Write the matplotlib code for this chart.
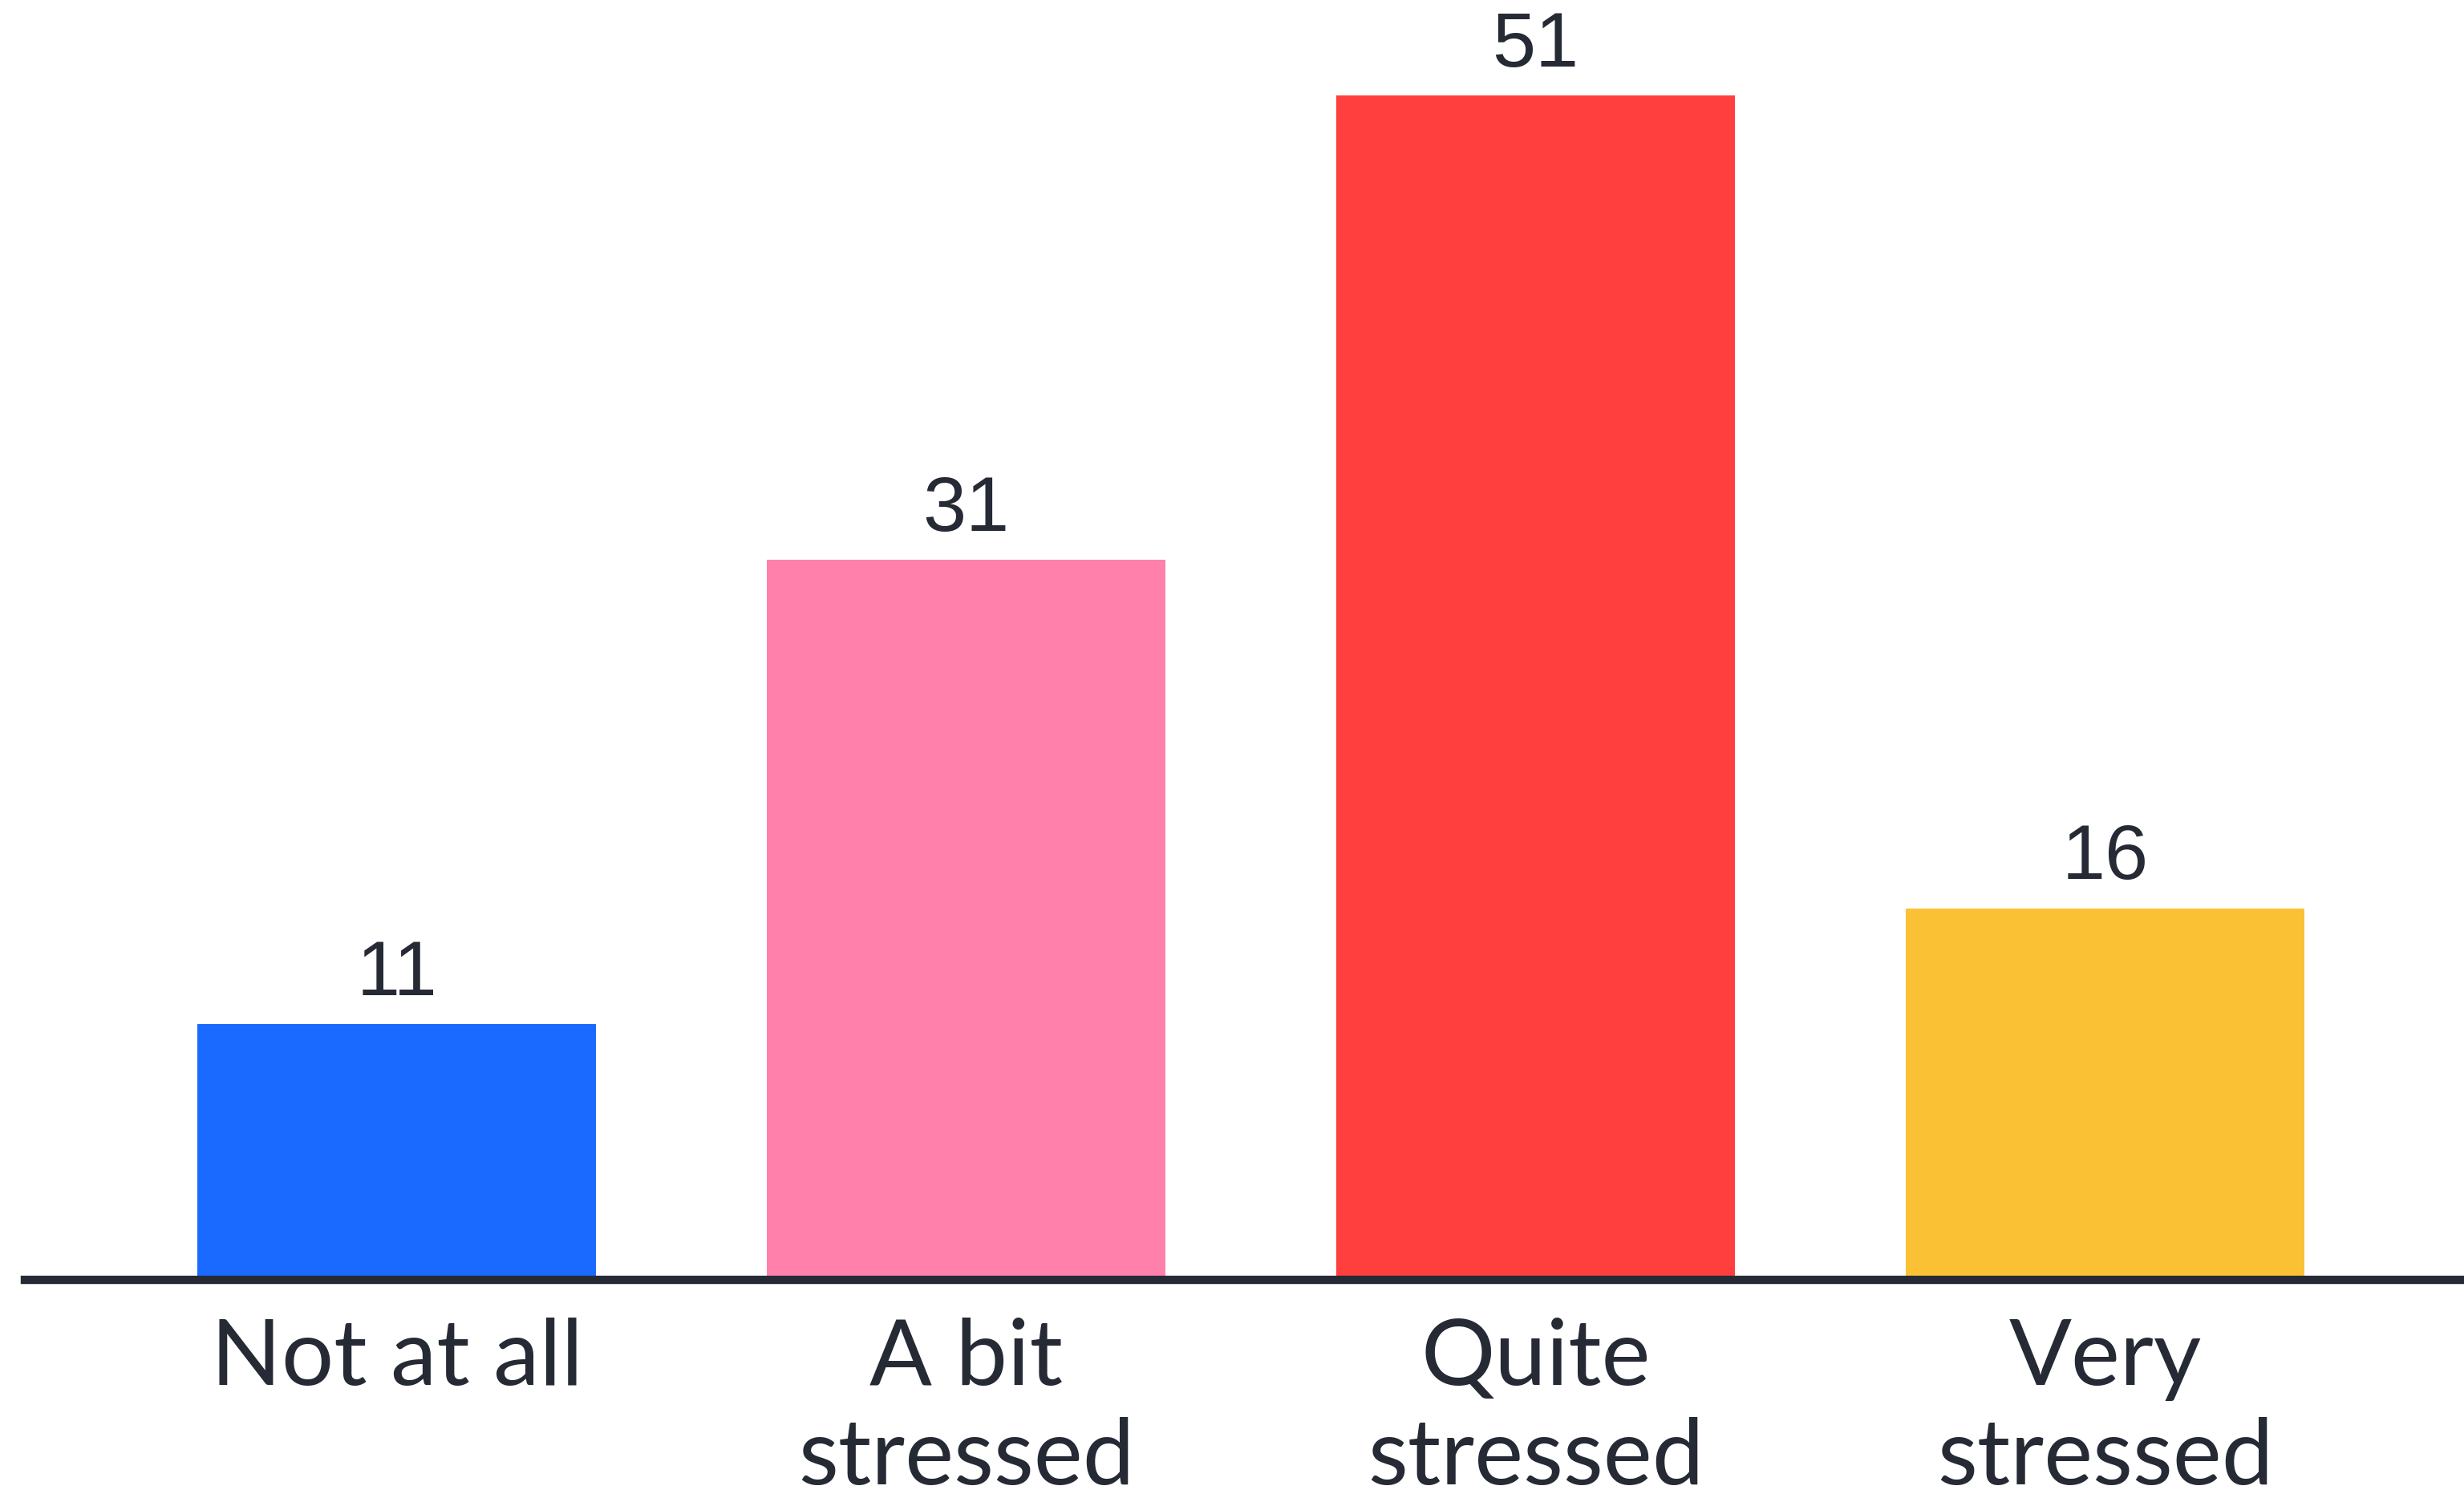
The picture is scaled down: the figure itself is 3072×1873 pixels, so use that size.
import matplotlib
matplotlib.use('Agg')
import matplotlib.pyplot as plt
import numpy as np

categories = ['Not at all', 'A bit\nstressed', 'Quite\nstressed', 'Very\nstressed']
values = [11, 31, 51, 16]
colors = ['#1a6aff', '#ff80ab', '#ff3e3e', '#fbc135']
ink = '#252a35'

W, H, DPI = 3072, 1873, 100
fig = plt.figure(figsize=(W / DPI, H / DPI), dpi=DPI)
fig.patch.set_facecolor('white')

# axes spans from the baseline up to the top edge, line runs off the right side
left_px, base_px = 31, 1596
ax = fig.add_axes([left_px / W, (H - base_px) / H, (W - left_px) / W, base_px / H])
ax.set_xlim(-0.653, 3.63)
ax.set_ylim(0, 55.1)

x = np.arange(len(values))
ax.bar(x, values, width=0.7, color=colors, zorder=2)

for xi, v in zip(x, values):
    ax.text(xi, v + 1.25, str(v), ha='center', va='baseline',
            fontsize=70, color=ink, family='Liberation Sans')

# category labels, one baseline per line
for xi, lab in zip(x, categories):
    for i, line in enumerate(lab.split('\n')):
        ax.text(xi, -4.52 - 4.28 * i, line, ha='center', va='baseline',
                fontsize=83, color=ink, family='Lato', clip_on=False)

for s in ['top', 'right', 'left']:
    ax.spines[s].set_visible(False)
ax.spines['bottom'].set_color(ink)
ax.spines['bottom'].set_linewidth(7.5)
ax.spines['bottom'].set_zorder(3)
ax.set_xticks([])
ax.set_yticks([])
ax.patch.set_alpha(0)

fig.savefig('out.png', dpi=DPI)
